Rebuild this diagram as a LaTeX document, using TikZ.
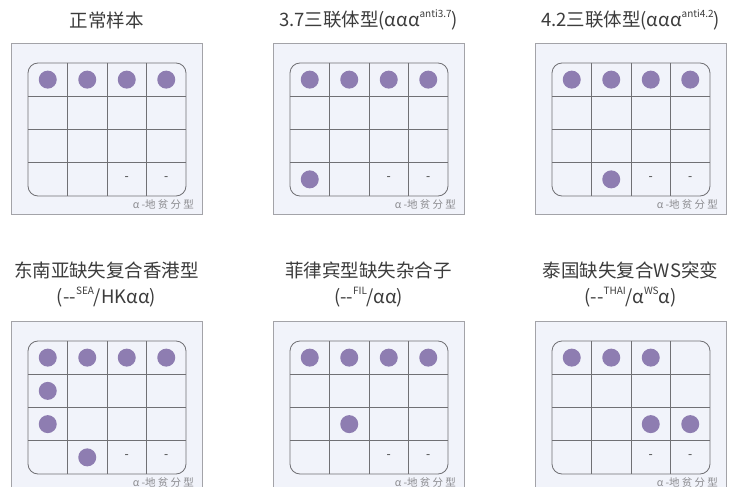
\documentclass[tikz,border=0pt]{standalone}
\usepackage{fontspec}
\setmainfont{Noto Sans CJK SC}
\definecolor{boxfill}{HTML}{F1F3FA}
\definecolor{boxline}{HTML}{A3A3A8}
\definecolor{gridc}{HTML}{707074}
\definecolor{dotc}{HTML}{8E7DB1}
\definecolor{titlec}{HTML}{3C3C3C}
\definecolor{lblc}{HTML}{8C8C90}
\newcommand\supx[1]{\raisebox{0.85ex}{\fontsize{10}{10}\selectfont #1}}
\newcommand\lsp{\hspace{2.2pt}}
\tikzset{
  outerbox/.style={draw=boxline, fill=boxfill, line width=0.9pt, minimum width=191pt, minimum height=171pt, inner sep=0pt},
  gridline/.style={draw=gridc, line width=0.8pt},
  dotnode/.style={circle, fill=dotc, minimum size=18pt, inner sep=0pt},
  dashtext/.style={text=titlec, font=\fontsize{12}{12}\selectfont, inner sep=0pt},
  lbl/.style={text=lblc, font=\fontsize{10.5}{10.5}\selectfont, inner sep=0pt},
  titletext/.style={text=titlec, font=\fontsize{18.5}{22}\selectfont, inner sep=0pt},
}
\newcommand\drawpanel[4]{%
  \begin{scope}[shift={(#2,#3)}]
    \node[outerbox] (#1box) at (95.5,85.5) {};
    \draw[gridline, rounded corners=10pt] (17,20) rectangle (175,153);
    \foreach \i in {1,2,3} {
      \draw[gridline] (17+39.5*\i,20) -- (17+39.5*\i,153);
      \draw[gridline] (17,20+33.25*\i) -- (175,20+33.25*\i);
    }
    \foreach \c/\r in {#4} {
      \node[dotnode] (#1d\c\r) at ({17+39.5*(\c-0.5)},{20+33.25*(\r-0.5)}) {};
    }
    \node[dashtext] (#1dashA) at ({17+39.5*2.5},{19.5+33.25*3.5}) {-};
    \node[dashtext] (#1dashB) at ({17+39.5*3.5},{19.5+33.25*3.5}) {-};
    \node[lbl, anchor=east] (#1lbl) at (183,162) {α\lsp-地\lsp 贫\lsp 分\lsp 型};
  \end{scope}}
\begin{document}
\begin{tikzpicture}[x=1pt,y=-1pt]
\useasboundingbox (0,0) rectangle (729,487);
\clip (0,0) rectangle (729,487);
\fill[white] (0,0) rectangle (729,487);
% panels
\drawpanel{pa}{11}{43}{1/1,2/1,3/1,4/1}
\drawpanel{pb}{273}{43}{1/1,2/1,3/1,4/1,1/4}
\drawpanel{pc}{535}{43}{1/1,2/1,3/1,4/1,2/4}
\drawpanel{pd}{11}{321}{1/1,2/1,3/1,4/1,1/2,1/3,2/4}
\drawpanel{pe}{273}{321}{1/1,2/1,3/1,4/1,2/3}
\drawpanel{pf}{535}{321}{1/1,2/1,3/1,3/3,4/3}
% titles
\node[titletext] (ta) at (106.5,20) {正常样本};
\node[titletext] (tb) at (368.5,20) {3.7三联体型(ααα\supx{anti3.7})};
\node[titletext] (tc) at (630.5,20) {4.2三联体型(ααα\supx{anti4.2})};
\node[titletext] (td1) at (106.5,270) {东南亚缺失复合香港型};
\node[titletext] (td2) at (106.5,297) {(-{}-\supx{SEA}/HKαα)};
\node[titletext] (te1) at (368.5,270) {菲律宾型缺失杂合子};
\node[titletext] (te2) at (368.5,297) {(-{}-\supx{FIL}/αα)};
\node[titletext] (tf1) at (630.5,270) {泰国缺失复合WS突变};
\node[titletext] (tf2) at (630.5,297) {(-{}-\supx{THAI}/α\supx{WS}α)};
\end{tikzpicture}
\end{document}
